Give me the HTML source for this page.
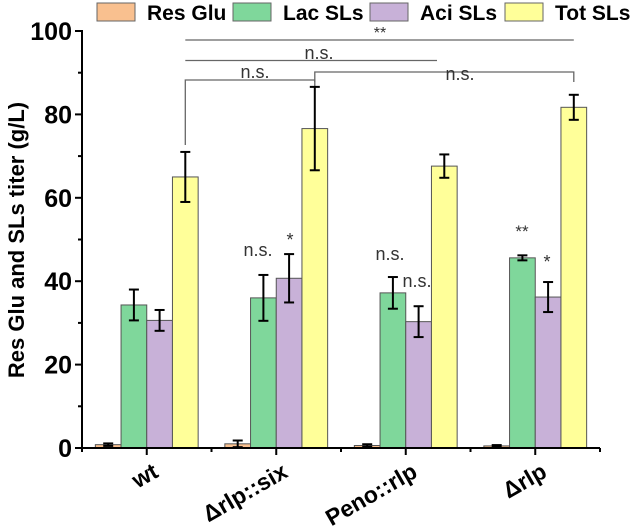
<!DOCTYPE html>
<html><head><meta charset="utf-8"><style>
body{margin:0;background:#fff}
svg{display:block;font-family:"Liberation Sans",Arial,sans-serif}
</style></head><body>
<svg id="chart" width="634" height="527" viewBox="0 0 634 527">
<g id="legend"></g>
<g id="annot"></g>
<g id="bars"></g>
<g id="axes"></g>
<text x="0" y="0" transform="translate(24,240) rotate(-90)" text-anchor="middle" font-size="22" font-weight="bold">Res Glu and SLs titer (g/L)</text>
</svg>
<script>
const categories=["wt","\u0394rlp::six","Peno::rlp","\u0394rlp"];
const seriesNames=["Res Glu","Lac SLs","Aci SLs","Tot SLs"];
const resGlu=[0.8,1.0,0.6,0.5];
const resGluErr=[0.3,0.8,0.3,0.2];
const lacSLs=[34.3,36.0,37.2,45.6];
const lacSLsErr=[3.7,5.5,3.8,0.6];
const aciSLs=[30.6,40.7,30.3,36.2];
const aciSLsErr=[2.5,5.8,3.7,3.6];
const totSLs=[65.0,76.6,67.6,81.7];
const totSLsErr=[6.0,10.0,2.8,3.0];
const yTicks=[0,20,40,60,80,100];
const colors=["#f9c08f","#7fd79b","#c8b1d8","#ffff99"];
const NS="http://www.w3.org/2000/svg";
const X0=82,X1=600,Y0=448,YTOP=31;
const band=(X1-X0)/categories.length, bw=25.7;
function y(v){return Y0-(v/100)*(Y0-YTOP);}
function cx(i){return X0+band*(i+0.5);}
function bx(i,s){return cx(i)+(s-2)*bw;}
function el(tag,attrs,parent){const e=document.createElementNS(NS,tag);for(const k in attrs)e.setAttribute(k,attrs[k]);parent.appendChild(e);return e;}
const bars=document.getElementById('bars'),axes=document.getElementById('axes'),leg=document.getElementById('legend'),ann=document.getElementById('annot');
const series=[[resGlu,resGluErr],[lacSLs,lacSLsErr],[aciSLs,aciSLsErr],[totSLs,totSLsErr]];
series.forEach((sd,s)=>{
  sd[0].forEach((v,i)=>{
    const r=el('rect',{x:bx(i,s),y:y(v),width:bw,height:Y0-y(v),fill:colors[s],stroke:'#555','stroke-width':1},bars);
    
    
    const c=bx(i,s)+bw/2,e=sd[1][i];
    const g=el('g',{stroke:'#000','stroke-width':2},bars);
    
    
    el('line',{x1:c,x2:c,y1:y(v+e),y2:y(v-e)},g);
    el('line',{x1:c-5,x2:c+5,y1:y(v+e),y2:y(v+e)},g);
    el('line',{x1:c-5,x2:c+5,y1:y(v-e),y2:y(v-e)},g);
  });
});
el('line',{x1:X0,x2:X0,y1:YTOP-1,y2:Y0+1,stroke:'#000','stroke-width':2},axes);
el('line',{x1:X0-1,x2:X1,y1:Y0,y2:Y0,stroke:'#000','stroke-width':2},axes);
yTicks.forEach(t=>{
  el('line',{x1:X0-7,x2:X0,y1:y(t),y2:y(t),stroke:'#000','stroke-width':2},axes);
  const tx=el('text',{x:X0-10,y:y(t)+9,'text-anchor':'end','font-size':25,'font-weight':'bold'},axes);
  tx.textContent=t;
  
  
  if(t<100)el('line',{x1:X0-4,x2:X0,y1:y(t+10),y2:y(t+10),stroke:'#000','stroke-width':2},axes);
});
for(let i=0;i<=categories.length;i++){
  el('line',{x1:X0+band*i,x2:X0+band*i,y1:Y0,y2:Y0+4,stroke:'#000','stroke-width':2},axes);
}
categories.forEach((c,i)=>{
  el('line',{x1:cx(i),x2:cx(i),y1:Y0,y2:Y0+7,stroke:'#000','stroke-width':2},axes);
  const tx=el('text',{x:0,y:0,'text-anchor':'end','font-size':23,'font-weight':'bold',transform:`translate(${cx(i)+13},${Y0+28}) rotate(-30)`},axes);
  tx.textContent=c;
  
  
});
const legX=[97,233,370,505];
seriesNames.forEach((n,s)=>{
  const r=el('rect',{x:legX[s],y:3,width:38,height:18,fill:colors[s],stroke:'#666','stroke-width':1},leg);
  
  
  const t=el('text',{x:legX[s]+50,y:20,'font-size':21,'font-weight':'bold'},leg);
  t.textContent=n;
  
  
});
const gl={stroke:'#666','stroke-width':1.3,fill:'none'};
function txt(x,yy,s,fs){const t=el('text',{x:x,y:yy,'text-anchor':'middle','font-size':fs||18,fill:'#333'},ann);t.textContent=s;}
const yc=i=>bx(i,3)+bw/2;
el('path',Object.assign({d:`M${yc(0)},40 H${yc(3)}`},gl),ann);txt(380,38,'**',16);
el('path',Object.assign({d:`M${yc(0)},60.5 H437`},gl),ann);txt(319,59,'n.s.');
el('path',Object.assign({d:`M${yc(1)},82 V72 H${yc(3)} V82`},gl),ann);txt(460,80,'n.s.');
el('path',Object.assign({d:`M${yc(0)},145 V80 H${yc(1)} V86`},gl),ann);txt(255,78,'n.s.');
txt(258,256,'n.s.');txt(290,246,'*',18);
txt(390,260,'n.s.');txt(417,287,'n.s.');
txt(522,237,'**',17);txt(547,268,'*',18);
</script>
</body></html>
